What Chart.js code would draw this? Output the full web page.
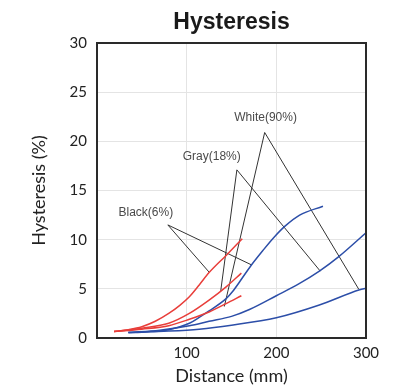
<!DOCTYPE html>
<html>
<head>
<meta charset="utf-8">
<script src="https://cdn.jsdelivr.net/npm/chart.js@4"></script>
<style>
  html, body { margin: 0; padding: 0; background: #fff; }
  #wrap { width: 398px; height: 387px; }
</style>
</head>
<body>
<div id="wrap"><canvas id="myChart" width="398" height="387"></canvas></div>
<script>
// curves: [distance mm, hysteresis %]
let red1 = [[19,0.65],[35,0.85],[50,1.15],[65,1.7],[80,2.5],[92,3.3],[103,4.2],[114,5.4],[125,6.65],[144,8.4],[162,10.1]]
let red2 = [[19,0.65],[50,1.0],[80,1.5],[103,2.5],[125,3.85],[144,5.2],[161,6.6]]
let red3 = [[19,0.65],[50,0.9],[80,1.25],[103,1.9],[125,2.65],[144,3.5],[161,4.3]]
let blue1 = [[35,0.55],[60,0.65],[80,0.85],[103,1.5],[114,2.1],[125,2.75],[144,4.0],[151,4.7],[162,6.1],[172,7.4],[185,8.9],[198,10.3],[210,11.4],[226,12.5],[252,13.4]]
let blue2 = [[35,0.55],[70,0.8],[103,1.25],[125,1.7],[150,2.2],[170,2.9],[200,4.3],[225,5.5],[248,6.8],[270,8.3],[300,10.7]]
let blue3 = [[35,0.55],[80,0.7],[114,0.9],[150,1.3],[200,2.05],[248,3.35],[293,4.9],[300,5.05]]

// leader lines: end on red curve -> label corner -> end on blue curve
let blackLeader = [[125,6.7],[79,11.5],[172,7.45]]
let grayLeader = [[138,4.8],[156,17.1],[249,6.8]]
let whiteLeader = [[142,3.2],[187,20.9],[292,4.95]]

let labelText = ['Black(6%)', 'Gray(18%)', 'White(90%)']
let labelPos = [[54.5,12.7],[128,18.4],[188,22.4]]

let yTicks = [0,5,10,15,20,25,30]
let xTicks = [100,200,300]

const toXY = arr => arr.map(p => ({x: p[0], y: p[1]}))

const red = 'rgb(232, 62, 58)'
const blue = 'rgb(44, 78, 168)'

function curve(arr, color) {
  return {
    data: toXY(arr),
    borderColor: color,
    borderWidth: 1.5,
    pointRadius: 0,
    cubicInterpolationMode: 'monotone',
    fill: false
  }
}

function leader(arr) {
  return {
    data: toXY(arr),
    borderColor: '#333',
    borderWidth: 1,
    pointRadius: 0,
    tension: 0,
    fill: false
  }
}

// frame around plot, title over the plot, leader labels
const extras = {
  id: 'extras',
  afterDatasetsDraw(chart) {
    const ctx = chart.ctx
    const a = chart.chartArea
    const xs = chart.scales.x, ys = chart.scales.y
    ctx.save()
    ctx.strokeStyle = '#2a2a2a'
    ctx.lineWidth = 2
    ctx.strokeRect(a.left, a.top, a.right - a.left, a.bottom - a.top)

    ctx.fillStyle = '#1a1a1a'
    ctx.font = 'bold 23px "Liberation Sans", Arial, sans-serif'
    ctx.textAlign = 'center'
    ctx.textBaseline = 'alphabetic'
    ctx.fillText('Hysteresis', (a.left + a.right) / 2, 29)

    ctx.fillStyle = '#4a4a4a'
    ctx.font = '12px "Liberation Sans", Arial, sans-serif'
    ctx.textBaseline = 'middle'
    for (let i = 0; i < labelText.length; i++) {
      ctx.fillText(labelText[i], xs.getPixelForValue(labelPos[i][0]), ys.getPixelForValue(labelPos[i][1]))
    }
    ctx.restore()
  }
}

var myChart = document.getElementById('myChart').getContext('2d')

var popChart = new Chart(myChart, {
  type: 'line',
  data: {
    datasets: [
      curve(red1, red), curve(red2, red), curve(red3, red),
      curve(blue1, blue), curve(blue2, blue), curve(blue3, blue),
      leader(blackLeader), leader(grayLeader), leader(whiteLeader)
    ]
  },
  plugins: [extras],
  options: {
    responsive: false,
    animation: false,
    layout: { padding: { left: 28, right: 32, top: 43, bottom: 0 } },
    scales: {
      x: {
        type: 'linear',
        min: 0,
        max: 300,
        afterBuildTicks: s => { s.ticks = xTicks.map(v => ({value: v})) },
        afterFit: s => { s.height = 49 },
        grid: { color: '#e4e4e4', drawTicks: false },
        border: { display: false },
        ticks: {
          color: '#222',
          padding: 6,
          font: { family: 'Lato, sans-serif', size: 15 }
        },
        title: {
          display: true,
          text: 'Distance (mm)',
          color: '#222',
          padding: 0,
          font: { family: 'Lato, sans-serif', size: 18 }
        }
      },
      y: {
        min: 0,
        max: 30,
        afterBuildTicks: s => { s.ticks = yTicks.map(v => ({value: v})) },
        afterFit: s => { s.width = 69 },
        grid: { color: '#e4e4e4', drawTicks: false },
        border: { display: false },
        ticks: {
          color: '#222',
          padding: 10,
          font: { family: 'Lato, sans-serif', size: 15 }
        },
        title: {
          display: true,
          text: 'Hysteresis (%)',
          color: '#222',
          padding: 0,
          font: { family: 'Lato, sans-serif', size: 18 }
        }
      }
    },
    plugins: {
      legend: { display: false },
      tooltip: { enabled: false },
      title: { display: false }
    }
  }
})
</script>
</body>
</html>
